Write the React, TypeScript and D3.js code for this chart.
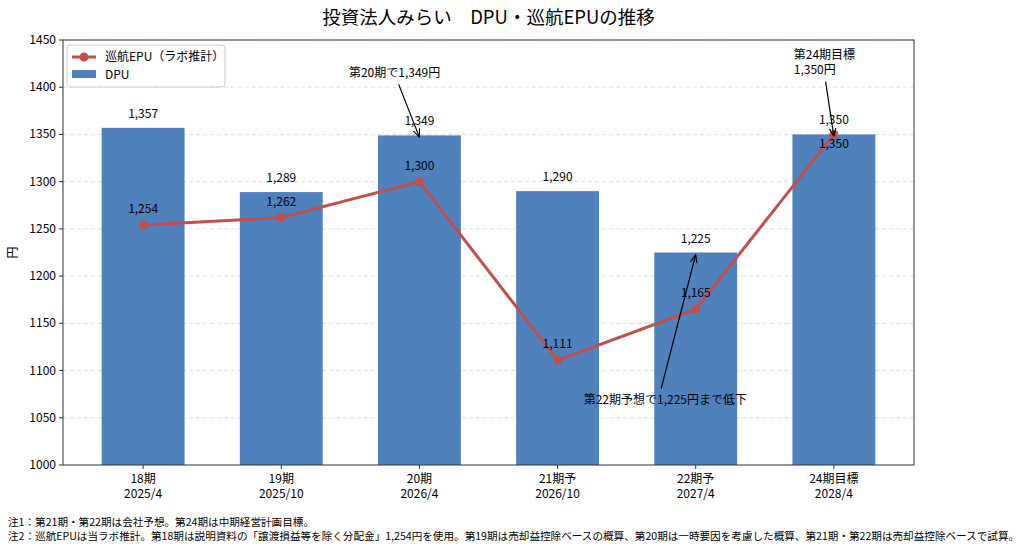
import React from "react";
import * as d3 from "d3";

const categories = ["18期\n2025/4", "19期\n2025/10", "20期\n2026/4", "21期予\n2026/10", "22期予\n2027/4", "24期目標\n2028/4"];
const dpuValues = [1357, 1289, 1349, 1290, 1225, 1350];
const epuValues = [1254, 1262, 1300, 1111, 1165, 1350];
const yTicks = [1000, 1050, 1100, 1150, 1200, 1250, 1300, 1350, 1400, 1450];

// annotations: text position in data coords, arrow target index/value
const annotations = [
  { lines: ["第20期で1,349円"], tx: 1.82, ty: 1415, sx: 1.85, sy: 1403, target: 2, value: 1349, anchor: "middle" },
  { lines: ["第24期目標", "1,350円"], tx: 4.71, ty: 1434, sx: 4.94, sy: 1406, target: 5, value: 1350, anchor: "start" },
  { lines: ["第22期予想で1,225円まで低下"], tx: 3.78, ty: 1069, sx: 3.75, sy: 1081, target: 4, value: 1225, anchor: "middle" },
];

const notes = [
  "注1：第21期・第22期は会社予想。第24期は中期経営計画目標。",
  "注2：巡航EPUは当ラボ推計。第18期は説明資料の「譲渡損益等を除く分配金」1,254円を使用。第19期は売却益控除ベースの概算、第20期は一時要因を考慮した概算、第21期・第22期は売却益控除ベースで試算。",
];

const W = 1024;
const H = 550;
const left = 63;
const right = 914;
const top = 40;
const bottom = 465;
const font = "'Noto Sans CJK JP', 'Noto Sans', sans-serif";
const barColor = "#4f81bd";
const lineColor = "#c0504d";

const fmt = d3.format(",");

export default function App() {
  const x = d3.scaleLinear().domain([-0.58, 5.58]).range([left, right]);
  const y = d3.scaleLinear().domain([1000, 1450]).range([bottom, top]);
  const barW = x(0.3) - x(-0.3);
  const line = d3
    .line<number>()
    .x((_d, i) => x(i))
    .y((d) => y(d));

  return (
    <svg width={W} height={H} style={{ position: "absolute", left: 0, top: 0, fontFamily: font }}>
      <defs>
        <marker id="arr" viewBox="0 0 10 10" refX="10" refY="5" markerWidth="7" markerHeight="7" orient="auto-start-reverse">
          <path d="M0,1 L10,5 L0,9" fill="none" stroke="#000" strokeWidth="1.3" />
        </marker>
      </defs>
      <rect width={W} height={H} fill="#fff" />
      <text x={(left + right) / 2} y={24} textAnchor="middle" fontSize={18.5}>
        投資法人みらい　DPU・巡航EPUの推移
      </text>

      {/* grid */}
      {yTicks.slice(1).map((t) => (
        <line key={t} x1={left} x2={right} y1={y(t)} y2={y(t)} stroke="#d9d9d9" strokeWidth={0.8} strokeDasharray="4,3" />
      ))}

      {/* bars */}
      {dpuValues.map((v, i) => (
        <rect key={i} x={x(i) - barW / 2} y={y(v)} width={barW} height={y(1000) - y(v)} fill={barColor} />
      ))}
      {dpuValues.map((v, i) => (
        <text key={i} x={x(i)} y={y(v) - 10} textAnchor="middle" fontSize={12}>
          {fmt(v)}
        </text>
      ))}

      {/* line */}
      <path d={line(epuValues) ?? ""} fill="none" stroke={lineColor} strokeWidth={3} />
      {epuValues.map((v, i) => (
        <circle key={i} cx={x(i)} cy={y(v)} r={4.5} fill={lineColor} />
      ))}
      {epuValues.map((v, i) => (
        <text key={i} x={x(i)} y={i === 5 ? y(v) + 14 : y(v) - 12} textAnchor="middle" fontSize={12}>
          {fmt(v)}
        </text>
      ))}

      {/* annotations */}
      {annotations.map((a, k) => (
        <g key={k}>
          <line x1={x(a.sx)} y1={y(a.sy)} x2={x(a.target)} y2={y(a.value) + 2} stroke="#000" strokeWidth={1.2} markerEnd="url(#arr)" />
          {a.lines.map((s, j) => (
            <text key={j} x={x(a.tx)} y={y(a.ty) + j * 15 + 4} textAnchor={a.anchor as any} fontSize={12}>
              {s}
            </text>
          ))}
        </g>
      ))}

      {/* axes frame */}
      <rect x={left} y={top} width={right - left} height={bottom - top} fill="none" stroke="#333" strokeWidth={1} />

      {/* y axis */}
      {yTicks.map((t) => (
        <g key={t}>
          <line x1={left - 4} x2={left} y1={y(t)} y2={y(t)} stroke="#333" />
          <text x={left - 7} y={y(t) + 4} textAnchor="end" fontSize={12}>
            {t}
          </text>
        </g>
      ))}
      <text transform={`translate(17,${(top + bottom) / 2}) rotate(-90)`} textAnchor="middle" fontSize={12}>
        円
      </text>

      {/* x axis */}
      {categories.map((c, i) => (
        <g key={i}>
          <line x1={x(i)} x2={x(i)} y1={bottom} y2={bottom + 4} stroke="#333" />
          {c.split("\n").map((s, j) => (
            <text key={j} x={x(i)} y={bottom + 18 + j * 15} textAnchor="middle" fontSize={12}>
              {s}
            </text>
          ))}
        </g>
      ))}

      {/* legend */}
      <rect x={67} y={45} width={158} height={42} rx={3} fill="#fff" fillOpacity={0.85} stroke="#ccc" />
      <line x1={72} x2={96} y1={57} y2={57} stroke={lineColor} strokeWidth={3} />
      <circle cx={84} cy={57} r={4.5} fill={lineColor} />
      <rect x={72} y={70} width={24} height={8} fill={barColor} />
      <text x={105} y={61} fontSize={12}>
        巡航EPU（ラボ推計）
      </text>
      <text x={105} y={79} fontSize={12}>
        DPU
      </text>

      {/* notes */}
      {notes.map((n, i) => (
        <text key={i} x={8} y={526 + i * 14} fontSize={10.6}>
          {n}
        </text>
      ))}
    </svg>
  );
}
